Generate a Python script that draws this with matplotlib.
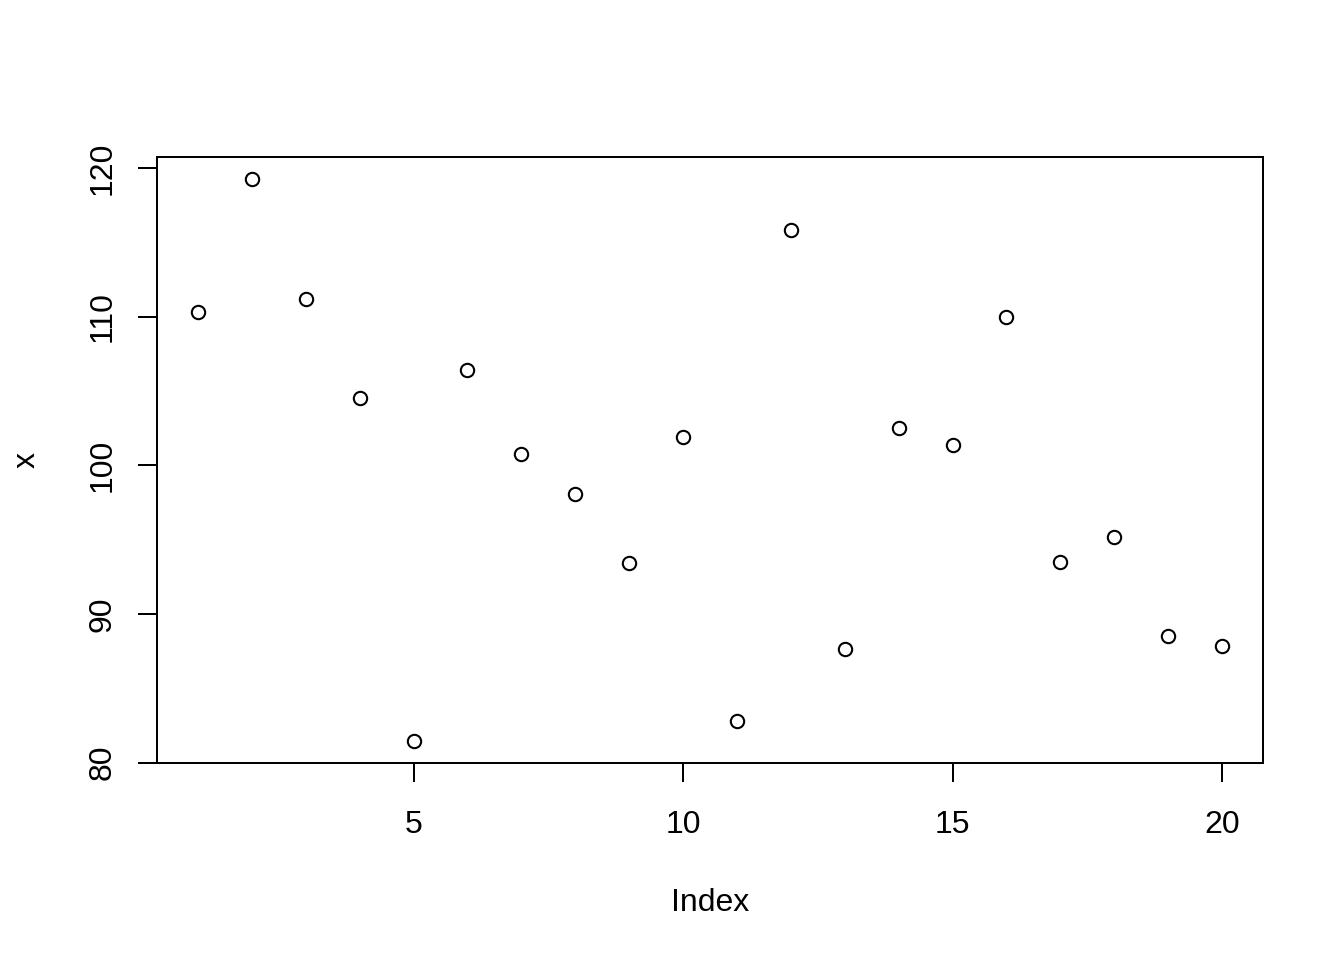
import numpy as np
import matplotlib
matplotlib.use("Agg")
from matplotlib import pyplot as plt

plt.rcParams['font.family'] = ['Liberation Sans', 'DejaVu Sans']

# values
index = list(range(1, 21))
x = [110.32, 119.26, 111.19, 104.54, 81.48, 106.42, 100.77, 98.08, 93.45, 101.92,
     82.82, 115.83, 87.66, 102.52, 101.38, 109.98, 93.51, 95.19, 88.54, 87.87]
xticks = [5, 10, 15, 20]
yticks = [80, 90, 100, 110, 120]

fig = plt.figure(figsize=(13.44, 9.6), dpi=100)
ax = fig.add_axes([157/1344, 1 - 763/960, 1106/1344, 606/960])

ax.plot(index, x, linestyle='none', marker='o', markersize=9.6,
        markerfacecolor='none', markeredgecolor='black', markeredgewidth=1.5)

# R style 4% padding
xr = max(index) - min(index)
ax.set_xlim(min(index) - 0.04*xr, max(index) + 0.04*xr)
yr = max(x) - min(x)
ax.set_ylim(min(x) - 0.04*yr, max(x) + 0.04*yr)

ax.set_xticks(xticks)
ax.set_yticks(yticks)
ax.tick_params(direction='out', length=13.7, width=1.44, labelsize=23)
ax.tick_params(axis='x', pad=20)
ax.tick_params(axis='y', pad=15)
for lab in ax.get_yticklabels():
    lab.set_rotation(90)
    lab.set_va('center')

for s in ax.spines.values():
    s.set_linewidth(1.44)

ax.set_xlabel('Index', fontsize=23)
ax.set_ylabel('x', fontsize=23)
ax.xaxis.set_label_coords(0.5, (763 - 903) / 606)
ax.yaxis.set_label_coords((27 - 157) / 1106, 0.5)
ax.xaxis.label.set_va('center')
ax.yaxis.label.set_va('center')

fig.savefig('out.png', dpi=100)
